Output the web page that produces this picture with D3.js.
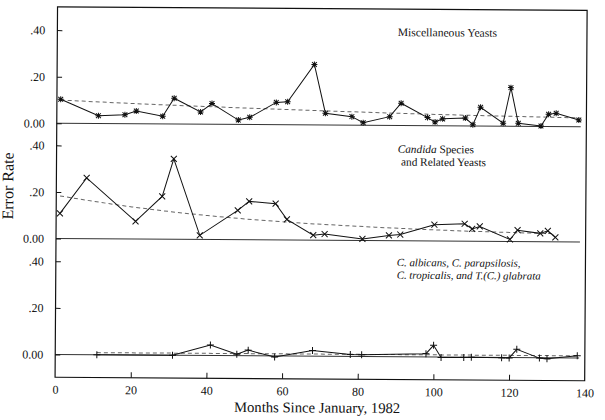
<!DOCTYPE html>
<html>
<head>
<meta charset="utf-8">
<script src="https://cdn.jsdelivr.net/npm/d3@7"></script>
<style>
  html, body { margin: 0; padding: 0; background: #fff; }
  svg { display: block; }
  text { font-family: "Liberation Serif", "Times New Roman", serif; fill: #111; }
</style>
</head>
<body>
<svg id="chart" width="605" height="420"></svg>
<script>
// ---- data ----
const monthsMisc = [1, 11, 18, 21, 28, 31, 38, 41, 48, 51, 58, 61, 68, 71, 78, 81, 88, 91, 98, 100, 102, 108, 110, 112, 118, 120, 122, 128, 130, 132, 138];
const rateMisc   = [0.103, 0.034, 0.039, 0.055, 0.033, 0.111, 0.053, 0.089, 0.019, 0.031, 0.096, 0.099, 0.26, 0.051, 0.037, 0.011, 0.038, 0.096, 0.035, 0.016, 0.03, 0.034, 0.006, 0.081, 0.013, 0.166, 0.013, 0.002, 0.053, 0.057, 0.029];

const monthsCandida = [1, 8, 21, 28, 31, 38, 48, 51, 58, 61, 68, 71, 81, 88, 91, 100, 108, 110, 112, 120, 122, 128, 130, 132];
const rateCandida   = [0.108, 0.261, 0.076, 0.184, 0.345, 0.018, 0.126, 0.165, 0.156, 0.089, 0.022, 0.027, 0.007, 0.023, 0.027, 0.07, 0.075, 0.053, 0.064, 0.009, 0.049, 0.036, 0.047, 0.019];

const monthsAlbicans = [11, 31, 41, 48, 51, 58, 68, 78, 81, 98, 100, 102, 108, 110, 118, 120, 122, 128, 130, 138];
const rateAlbicans   = [0, 0, 0.045, 0.006, 0.024, -0.005, 0.024, 0.008, 0.007, 0.014, 0.05, -0.002, -0.001, 0, -0.002, -0.002, 0.035, -0.002, -0.005, 0.009];

// fitted trend curves (dashed)
const trendMonthsMisc = [1, 20, 40, 60, 80, 100, 120, 138];
const trendMisc       = [0.10, 0.087, 0.076, 0.066, 0.057, 0.049, 0.043, 0.038];
const trendMonthsCandida = [1, 20, 40, 60, 80, 100, 120, 132];
const trendCandida       = [0.183, 0.138, 0.103, 0.078, 0.061, 0.048, 0.039, 0.035];
const trendMonthsAlbicans = [11, 138];
const trendAlbicans       = [0.009, 0.009];

const xTicks = [0, 20, 40, 60, 80, 100, 120, 140];
const yTicks = [0, 0.2, 0.4];
const yTickLabels = ["0.00", ".20", ".40"];
const zeroLineEnd = 138.5;

// ---- layout ----
const svg = d3.select("#chart");
const frame = { left: 56.3, right: 585.9, top: 8.6, bottom: 379 };
const root = svg.append("g").attr("transform", "rotate(0.38, 321, 194)");

const x = d3.scaleLinear().domain([0, 140]).range([frame.left, frame.right]);

const panels = [
  { months: monthsMisc, rates: rateMisc, tm: trendMonthsMisc, tv: trendMisc, zero: 125.05, marker: "star",
    title: [{ parts: [{ t: "Miscellaneous Yeasts", i: false }] }], tx: 396.7, ty: 35.6, fs: 11.6, lh: 13 },
  { months: monthsCandida, rates: rateCandida, tm: trendMonthsCandida, tv: trendCandida, zero: 240.3, marker: "x",
    title: [{ parts: [{ t: "Candida", i: true }, { t: " Species", i: false }] },
            { parts: [{ t: "and Related Yeasts", i: false }], dx: 3.4 }], tx: 397.4, ty: 152.3, fs: 11.3, lh: 12.8 },
  { months: monthsAlbicans, rates: rateAlbicans, tm: trendMonthsAlbicans, tv: trendAlbicans, zero: 356.2, marker: "plus",
    title: [{ parts: [{ t: "C. albicans, C. parapsilosis,", i: true }] },
            { parts: [{ t: "C. tropicalis, and T.(C.) glabrata", i: true }] }], tx: 397.2, ty: 265.6, fs: 10.9, lh: 12.6 }
];

const markerPath = (type, s) => {
  const p = d3.path();
  if (type === "star" || type === "plus") {
    p.moveTo(-s, 0); p.lineTo(s, 0); p.moveTo(0, -s); p.lineTo(0, s);
  }
  if (type === "star" || type === "x") {
    const d = type === "star" ? s * 0.8 : s;
    p.moveTo(-d, -d); p.lineTo(d, d); p.moveTo(-d, d); p.lineTo(d, -d);
  }
  return p.toString();
};

panels.forEach(pn => {
  const y = d3.scaleLinear().domain([0, 0.4]).range([pn.zero, pn.zero - 93.2]);
  const g = root.append("g");

  // zero line
  g.append("line")
    .attr("x1", x(0)).attr("x2", x(zeroLineEnd))
    .attr("y1", y(0)).attr("y2", y(0))
    .attr("stroke", "#333").attr("stroke-width", 1);

  // y ticks (inward) and labels
  const yAxis = d3.axisLeft(y).tickValues(yTicks).tickSize(-5).tickPadding(12)
    .tickFormat((d, i) => yTickLabels[i]);
  const ya = g.append("g").attr("transform", `translate(${frame.left},0)`).call(yAxis);
  ya.select(".domain").remove();
  ya.selectAll(".tick line").attr("stroke", "#111");
  ya.selectAll(".tick text").attr("font-size", 12)
    .attr("font-family", "'Liberation Serif', 'Times New Roman', serif").attr("fill", "#111");

  // trend (dashed)
  const trendData = pn.tm.map((m, i) => [m, pn.tv[i]]);
  g.append("path")
    .datum(trendData)
    .attr("fill", "none").attr("stroke", "#666").attr("stroke-width", 1)
    .attr("stroke-dasharray", "4,3")
    .attr("d", d3.line().x(d => x(d[0])).y(d => y(d[1])).curve(d3.curveMonotoneX));

  // data line
  const data = pn.months.map((m, i) => [m, pn.rates[i]]);
  g.append("path")
    .datum(data)
    .attr("fill", "none").attr("stroke", "#111").attr("stroke-width", 1)
    .attr("d", d3.line().x(d => x(d[0])).y(d => y(d[1])));

  // markers
  g.selectAll("path.mk").data(data).enter().append("path")
    .attr("class", "mk")
    .attr("transform", d => `translate(${x(d[0])},${y(d[1])})`)
    .attr("d", markerPath(pn.marker, pn.marker === "plus" ? 3.5 : 3))
    .attr("fill", "none").attr("stroke", "#111").attr("stroke-width", 1);

  // panel title
  pn.title.forEach((ln, li) => {
    const t = g.append("text")
      .attr("x", pn.tx + (ln.dx || 0)).attr("y", pn.ty + li * pn.lh)
      .attr("font-size", pn.fs);
    ln.parts.forEach(pt => {
      t.append("tspan").text(pt.t).attr("font-style", pt.i ? "italic" : "normal");
    });
  });
});

// frame
root.append("rect")
  .attr("x", frame.left).attr("y", frame.top)
  .attr("width", frame.right - frame.left).attr("height", frame.bottom - frame.top)
  .attr("fill", "none").attr("stroke", "#111").attr("stroke-width", 1.2);

// x axis: inward ticks at bottom with labels
const xAxis = d3.axisBottom(x).tickValues(xTicks).tickSize(-5.5).tickPadding(8)
  .tickFormat(d3.format("d"));
const xa = root.append("g").attr("transform", `translate(0,${frame.bottom})`).call(xAxis);
xa.select(".domain").remove();
xa.selectAll(".tick line").attr("stroke", "#111").attr("opacity", d => (d === 0 || d === 140) ? 0 : 1);
xa.selectAll(".tick text").attr("font-size", 12)
  .attr("font-family", "'Liberation Serif', 'Times New Roman', serif").attr("fill", "#111");

// axis titles
root.append("text")
  .attr("x", 318.5).attr("y", 412.5)
  .attr("text-anchor", "middle").attr("font-size", 14.7)
  .text("Months Since January, 1982");

root.append("text")
  .attr("transform", "translate(13.3,188) rotate(-90)")
  .attr("text-anchor", "middle").attr("font-size", 16)
  .text("Error Rate");
</script>
</body>
</html>
